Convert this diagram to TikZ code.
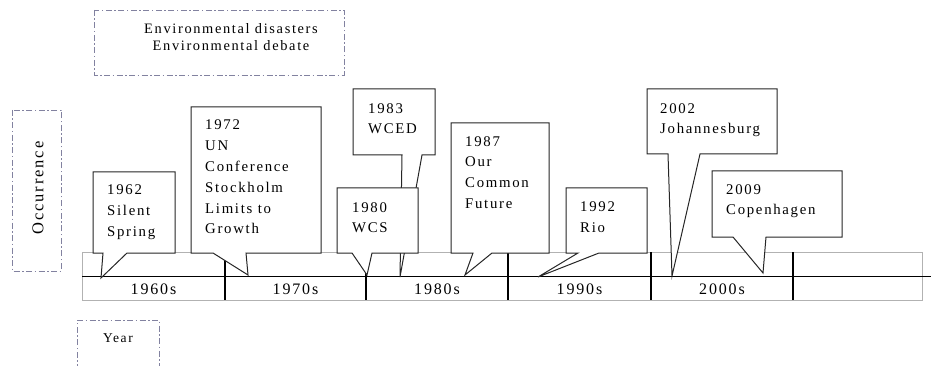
\documentclass[tikz,border=0pt]{standalone}
\usepackage{fontspec}
\setmainfont[LetterSpace=11.5]{Liberation Serif}
\definecolor{dashgray}{RGB}{130,130,160}
\begin{document}
\begin{tikzpicture}[x=1pt, y=-1pt,
    callbox/.style={fill=white, draw=black!85, line width=1pt, line join=miter},
    calltext/.style={anchor=north west, inner sep=0pt, align=left,
        font=\fontsize{14.8}{20.8}\selectfont},
    decade/.style={inner sep=0pt, font=\fontsize{16}{18}\selectfont},
    framebox/.style={draw=dashgray, line width=0.9pt,
        dash pattern=on 6pt off 2.5pt on 1.5pt off 2.5pt}]
    \useasboundingbox (0,0) rectangle (931,366);

    % side boxes
    \draw[framebox] (94,10) rectangle (344,75);
    \node[align=center, inner sep=0pt, font=\fontsize{14.4}{17}\selectfont]
        (topic) at (231,37) {Environmental disasters\\Environmental debate};
    \draw[framebox] (12,110) rectangle (61,271);
    \node[rotate=90, inner sep=0pt, font=\fontsize{16.5}{18}\selectfont]
        (occur) at (38,188) {Occurrence};
    \draw[framebox] (77,370) -- (77,320) -- (159,320) -- (159,370);
    \node[inner sep=0pt, font=\fontsize{13.5}{17}\selectfont] (year) at (118,338) {Year};

    % time line
    \draw[gray!60, line width=1pt] (82,252) rectangle (922,300);
    \draw[line width=1pt] (82,276) -- (931,276);
    \foreach \x in {225,366,508,651,793}
        \draw[line width=1.2pt] (\x,252) -- (\x,300);
    \foreach \d/\x in {1960s/153.5, 1970s/295.5, 1980s/437, 1990s/579.5, 2000s/722}
        \node[decade] (d\d) at (\x,289) {\d};

    % callouts
    \foreach \l/\t/\r/\b/\bl/\br/\tx/\ty in {
        93/172/175/253/103/127/101/278,
        191/107/321/253/213/246/248/275,
        353/89/435/155/402/422/400/277,
        337/188/418/253/352/372/367/275,
        451/123/549/253/473/492/465/275,
        566/188/647/253/578/599/538/277,
        647/89/777/154/668/700/672/276,
        712/171/842/237/733/766/763/273}
        \filldraw[callbox] (\l,\t) -- (\r,\t) -- (\r,\b) -- (\br,\b)
            -- (\tx,\ty) -- (\bl,\b) -- (\l,\b) -- cycle;

    \node[calltext] (e1962) at (107,185) {1962\\Silent\\Spring};
    \node[calltext] (e1972) at (205,120) {1972\\UN\\Conference\\Stockholm\\Limits to\\Growth};
    \node[calltext] (e1983) at (368,103) {1983\\WCED};
    \node[calltext] (e1980) at (352,202) {1980\\WCS};
    \node[calltext] (e1987) at (465,136) {1987\\Our\\Common\\Future};
    \node[calltext] (e1992) at (580,202) {1992\\Rio};
    \node[calltext] (e2002) at (660,103) {2002\\Johannesburg};
    \node[calltext] (e2009) at (726,184) {2009\\Copenhagen};
\end{tikzpicture}
\end{document}
